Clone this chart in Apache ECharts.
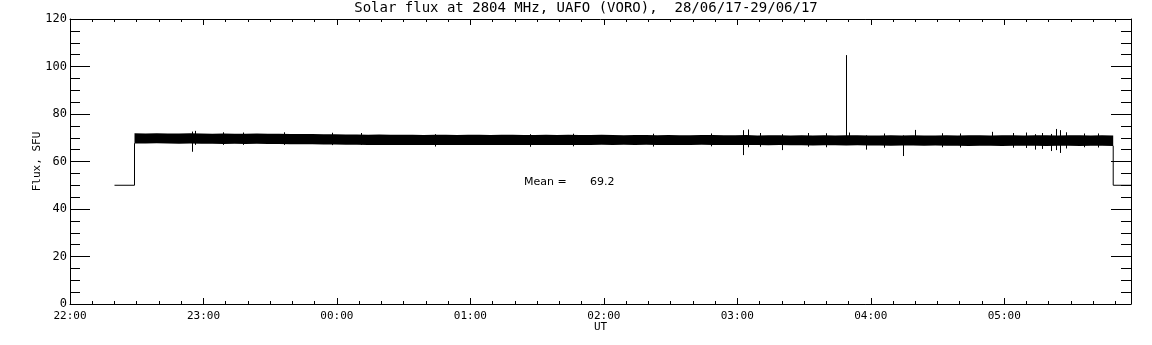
<!DOCTYPE html>
<html>
<head>
<meta charset="utf-8">
<script src="https://cdn.jsdelivr.net/npm/echarts@6/dist/echarts.min.js"></script>
<style>
  html, body { margin: 0; padding: 0; background: #fff; }
  #chart { width: 1152px; height: 345px; }
</style>
</head>
<body>
<div id="chart"></div>
<script>
// time is in minutes after 22:00 UT (28/06/17)
var xMax = 477;
var yTicks = [0, 20, 40, 60, 80, 100, 120];

// flat level before and after the observation
var stepIn = [[20, 50], [29, 50], [29, 67.7]];
var stepOut = [[469, 66.6], [469, 50], [477, 50]];

// envelope of the dense flux trace, read every 5 min from 22:29
var bandStart = 29;
var bandStep = 5;
var bandUpper = [
    71.9, 71.8, 71.9, 71.8, 71.8, 71.9, 71.8, 71.7, 71.8, 71.7,
    71.7, 71.8, 71.7, 71.7, 71.6, 71.6, 71.6, 71.5, 71.5, 71.4,
    71.4, 71.3, 71.4, 71.3, 71.3, 71.3, 71.2, 71.3, 71.3, 71.2,
    71.3, 71.3, 71.2, 71.3, 71.3, 71.2, 71.2, 71.3, 71.2, 71.3,
    71.2, 71.2, 71.3, 71.2, 71.1, 71.2, 71.2, 71.1, 71.2, 71.1,
    71.1, 71.2, 71.2, 71.1, 71.1, 71.2, 71.0, 71.1, 71.1, 71.0,
    71.1, 71.0, 71.1, 71.0, 71.1, 71.1, 71.0, 71.0, 71.1, 71.0,
    71.1, 71.0, 71.0, 71.1, 71.0, 71.1, 71.1, 71.0, 71.1, 71.1,
    71.0, 71.1, 71.1, 71.0, 71.1, 71.1, 71.0, 71.1, 71.0
];
var bandLower = [
    67.6, 67.6, 67.7, 67.6, 67.5, 67.6, 67.5, 67.5, 67.4, 67.5,
    67.4, 67.5, 67.4, 67.4, 67.3, 67.3, 67.3, 67.2, 67.2, 67.1,
    67.1, 67.0, 67.0, 67.0, 67.0, 66.9, 67.0, 67.0, 66.9, 67.0,
    66.9, 67.0, 66.9, 67.0, 66.9, 67.0, 66.9, 66.9, 67.0, 66.9,
    67.0, 67.0, 67.1, 67.0, 67.1, 67.0, 67.1, 67.0, 67.0, 67.0,
    67.0, 67.1, 67.0, 67.0, 66.9, 67.0, 66.9, 66.8, 66.9, 66.8,
    66.8, 66.7, 66.8, 66.8, 66.7, 66.8, 66.7, 66.7, 66.6, 66.7,
    66.7, 66.6, 66.7, 66.6, 66.6, 66.5, 66.6, 66.6, 66.5, 66.6,
    66.6, 66.6, 66.5, 66.6, 66.6, 66.5, 66.6, 66.6, 66.5
];

// spikes and small excursions beyond the envelope: [minute, low, high]
var spikes = [
    [55, 64.1, 72.6], [56, 67.0, 72.9],
    [69, 67.0, 72.3], [78, 67.0, 72.2], [96, 67.0, 72.3], [118, 66.9, 72.1],
    [131, 67.0, 72.0], [164, 66.3, 71.5], [207, 66.2, 71.5], [226, 66.4, 71.7],
    [262, 66.3, 71.7], [288, 66.4, 71.8],
    [302.7, 62.7, 73.2], [305, 66.0, 73.5], [310, 66.2, 72.0], [320.3, 64.8, 71.5],
    [332, 66.2, 72.0], [340, 66.0, 71.9],
    [348.8, 67.5, 104.8], [350, 67.3, 72.2], [357.8, 65.0, 71.0],
    [366, 65.8, 71.8], [374.5, 62.3, 71.0], [379.8, 67.0, 73.3], [392, 66.0, 71.9],
    [400, 65.9, 71.8], [414.4, 67.0, 72.5], [424, 65.8, 72.0], [430, 65.7, 72.2],
    [434, 65.0, 71.5], [437, 65.3, 72.0], [441, 64.4, 71.6],
    [443.1, 64.8, 73.7], [445, 63.6, 73.2], [448, 65.5, 72.3], [456, 66.0, 71.8],
    [462, 65.9, 71.8]
];

var meanValue = 69.2;

var bandTime = [];
for (var i = 0; i < bandUpper.length; i++) {
    bandTime.push(bandStart + i * bandStep);
}

var font = 'DejaVu Sans';
var mono = 'DejaVu Sans Mono';
var black = '#000';

function timeLabel(v) {
    if (v % 60 !== 0) return '';
    var h = (22 + v / 60) % 24;
    return (h < 10 ? '0' : '') + h + ':00';
}

// x axes: majors with labels, plus a 10 min tick axis, on bottom and top
function xAxisDef(pos, step, len, showLine, showLabel) {
    return {
        type: 'value', position: pos, min: 0, max: xMax, interval: step,
        axisLine: { show: showLine, onZero: false, lineStyle: { color: black, width: 1 } },
        axisTick: { show: true, inside: true, length: len, lineStyle: { color: black } },
        axisLabel: { show: showLabel, formatter: timeLabel, color: black, fontSize: 11, fontFamily: mono, margin: 7 },
        splitLine: { show: false }
    };
}
var xAxes = [
    xAxisDef('bottom', 60, 6, true, true),
    xAxisDef('bottom', 10, 3, false, false),
    xAxisDef('top', 60, 6, true, false),
    xAxisDef('top', 10, 3, false, false)
];
xAxes[0].name = 'UT';
xAxes[0].nameLocation = 'middle';
xAxes[0].nameGap = 18;
xAxes[0].nameMoveOverlap = false;
xAxes[0].nameTextStyle = { color: black, fontSize: 11, fontFamily: mono };

function yAxisDef(pos, showLabel) {
    return {
        type: 'value', position: pos, min: yTicks[0], max: yTicks[yTicks.length - 1], interval: 20,
        axisLine: { show: true, onZero: false, lineStyle: { color: black, width: 1 } },
        axisTick: { show: true, inside: true, length: 20, lineStyle: { color: black } },
        minorTick: { show: true, splitNumber: 4, length: 10, lineStyle: { color: black } },
        axisLabel: { show: showLabel, color: black, fontSize: 12, fontFamily: mono, margin: 3 },
        splitLine: { show: false }
    };
}
var yAxes = [yAxisDef('left', true), yAxisDef('right', false)];
yAxes[0].name = 'Flux, SFU';
yAxes[0].nameLocation = 'middle';
yAxes[0].nameGap = 27;
yAxes[0].nameMoveOverlap = false;
yAxes[0].nameTextStyle = { color: black, fontSize: 11, fontFamily: mono };

var myChart = echarts.init(document.getElementById('chart'), null, { renderer: 'canvas' });

var option = {
    animation: false,
    backgroundColor: '#fff',
    grid: { left: 70, right: 21, top: 19, bottom: 41 },
    xAxis: xAxes,
    yAxis: yAxes,
    graphic: [
        {
            type: 'text', x: 586, y: 8,
            style: {
                text: 'Solar flux at 2804 MHz, UAFO (VORO),  28/06/17-29/06/17',
                font: '14px "DejaVu Sans Mono"', fill: black, textAlign: 'center', textVerticalAlign: 'middle'
            }
        },
        {
            type: 'text', x: 524, y: 182,
            style: {
                text: 'Mean =', font: '11px "DejaVu Sans"', fill: black,
                textAlign: 'left', textVerticalAlign: 'middle'
            }
        },
        {
            type: 'text', x: 590, y: 182,
            style: {
                text: meanValue.toFixed(1), font: '11px "DejaVu Sans"', fill: black,
                textAlign: 'left', textVerticalAlign: 'middle'
            }
        }
    ],
    series: [
        {
            // filled envelope of the trace
            type: 'custom', xAxisIndex: 0, yAxisIndex: 0,
            data: [0],
            renderItem: function (params, api) {
                var pts = [];
                for (var i = 0; i < bandTime.length; i++) {
                    pts.push(api.coord([bandTime[i], bandUpper[i]]));
                }
                for (var j = bandTime.length - 1; j >= 0; j--) {
                    pts.push(api.coord([bandTime[j], bandLower[j]]));
                }
                return {
                    type: 'polygon',
                    shape: { points: pts },
                    style: { fill: black }
                };
            },
            silent: true
        },
        {
            type: 'custom', xAxisIndex: 0, yAxisIndex: 0,
            data: spikes,
            renderItem: function (params, api) {
                var p1 = api.coord([api.value(0), api.value(1)]);
                var p2 = api.coord([api.value(0), api.value(2)]);
                var x = Math.round(p1[0]) + 0.5;
                return {
                    type: 'line',
                    shape: { x1: x, y1: p1[1], x2: x, y2: p2[1] },
                    style: { stroke: black, lineWidth: 1 }
                };
            },
            encode: { x: 0, y: [1, 2] },
            silent: true
        },
        {
            type: 'line', data: stepIn, symbol: 'none',
            lineStyle: { color: black, width: 1 }, silent: true
        },
        {
            type: 'line', data: stepOut, symbol: 'none',
            lineStyle: { color: black, width: 1 }, silent: true
        }
    ]
};
myChart.setOption(option);
</script>
</body>
</html>
